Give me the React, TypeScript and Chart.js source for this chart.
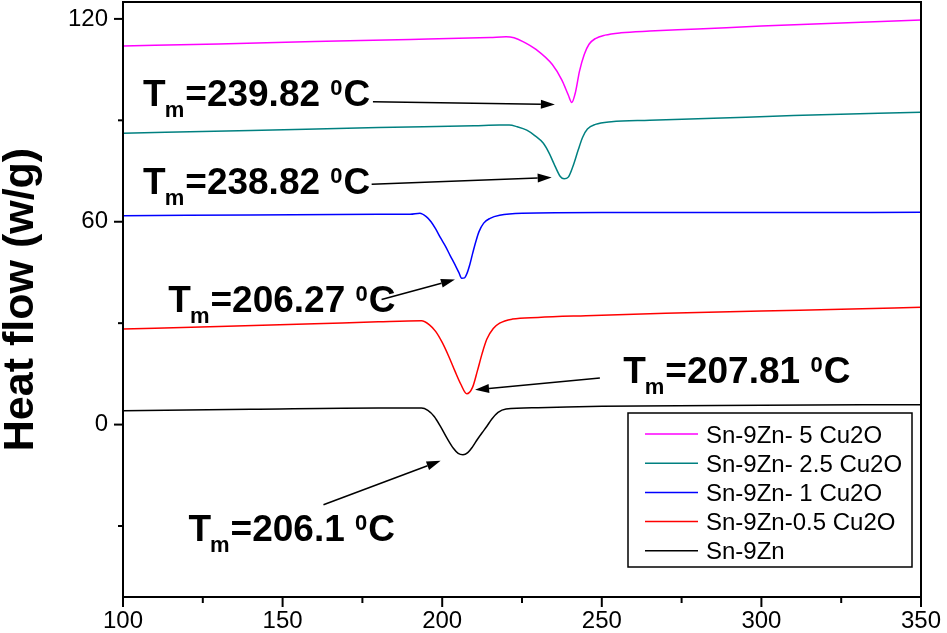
import React, { useEffect, useRef } from 'react';
import { Chart, registerables } from 'chart.js';

Chart.register(...registerables);

// ---- Series (temperature °C, heat flow W/g) ----
const seriesLabels = ['Sn-9Zn- 5 Cu2O', 'Sn-9Zn- 2.5 Cu2O', 'Sn-9Zn- 1 Cu2O', 'Sn-9Zn-0.5 Cu2O', 'Sn-9Zn'];
const seriesColors = ['#FF00FF', '#008080', '#0000FF', '#FF0000', '#000000'];

const tempCu5 = [100, 130, 160, 190, 215, 220, 222.5, 225.3, 229.5, 234.5, 237.5, 239.5, 240.6, 241.8, 243, 244.5, 246, 248, 251, 256, 265, 280, 300, 325, 350];
const heatCu5 = [112.0, 112.6, 113.3, 113.9, 114.5, 114.7, 114.4, 113.3, 110.9, 106.5, 101.9, 97.5, 95.3, 98.5, 104.5, 109.5, 112.5, 114.2, 115.2, 115.9, 116.4, 117.0, 117.9, 118.8, 119.7];

const tempCu25 = [100, 140, 180, 210, 218, 221, 223.5, 226.5, 229, 231.7, 233.5, 235, 237, 238.2, 239.5, 241, 242.6, 244, 245.5, 248, 253, 265, 285, 310, 350];
const heatCu25 = [86.2, 87.0, 87.9, 88.4, 88.6, 88.6, 88.1, 87.1, 85.5, 83.2, 80.3, 77.2, 73.4, 72.7, 73.2, 76.5, 81.2, 85.0, 87.4, 88.8, 89.6, 90.0, 90.6, 91.4, 92.4];

const tempCu1 = [100, 140, 180, 190, 193, 195, 196.5, 198, 199.5, 201, 202.5, 204, 205.2, 206.1, 207, 207.8, 208.7, 209.5, 210.5, 211.5, 213, 215, 218, 225, 250, 300, 350];
const heatCu1 = [61.8, 62.0, 62.2, 62.2, 62.5, 61.5, 60.0, 57.8, 55.2, 52.8, 50.0, 47.3, 45.0, 43.3, 43.4, 44.8, 47.5, 50.5, 54.0, 57.0, 59.6, 61.0, 61.9, 62.5, 62.7, 62.7, 62.8];

const tempCu05 = [100, 130, 160, 180, 193.5, 196, 198, 200, 202, 204, 205.8, 207.7, 209.5, 211, 212.5, 214, 216, 218, 222, 230, 245, 270, 300, 325, 350];
const heatCu05 = [28.3, 29.0, 29.8, 30.4, 30.7, 29.5, 27.5, 24.3, 20.3, 15.8, 12.0, 9.1, 11.0, 15.8, 21.0, 25.3, 28.4, 30.0, 31.2, 31.7, 32.2, 32.9, 33.6, 34.1, 34.7];

const tempBase = [100, 140, 180, 193.5, 195.5, 197.5, 199.5, 201.5, 203.5, 205, 206.5, 208, 209.5, 211, 212.5, 214, 215.5, 217.5, 220, 230, 250, 300, 350];
const heatBase = [4.1, 4.5, 4.9, 4.9, 4.2, 2.4, -0.6, -4.0, -7.0, -8.5, -8.9, -8.3, -6.6, -4.4, -2.4, -0.5, 1.6, 3.6, 4.6, 5.0, 5.4, 5.7, 5.9];

const seriesTemps = [tempCu5, tempCu25, tempCu1, tempCu05, tempBase];
const seriesHeats = [heatCu5, heatCu25, heatCu1, heatCu05, heatBase];

// ---- Axes ----
const xMin = 100;
const xMax = 350;
const xMajorTicks = [100, 150, 200, 250, 300, 350];
const yMin = -51;
const yMax = 125;
const yMajorTicks = [0, 60, 120];

// ---- Melting-point annotations (data coordinates) ----
const meltValues = ['239.82', '238.82', '206.27', '207.81', '206.1'];
const labelT = [106.3, 106.3, 114.2, 256.7, 120.5];
const labelV = [94.2, 68.1, 33.3, 12.2, -34.4];
const arrowFromT = [178.3, 177.9, 181.0, 249.4, 162.8];
const arrowFromV = [95.5, 71.1, 37.0, 13.8, -23.7];
const arrowToT = [235.3, 234.3, 204.0, 210.3, 199.5];
const arrowToV = [94.7, 73.1, 42.9, 10.3, -10.7];

const FONT = '"Liberation Sans", Arial, Helvetica, sans-serif';

function drawArrow(ctx: CanvasRenderingContext2D, x1: number, y1: number, x2: number, y2: number) {
  const ang = Math.atan2(y2 - y1, x2 - x1);
  const c = Math.cos(ang);
  const s = Math.sin(ang);
  const L = 14;
  const W = 4.5;
  ctx.lineWidth = 1.5;
  ctx.beginPath();
  ctx.moveTo(x1, y1);
  ctx.lineTo(x2 - L * c, y2 - L * s);
  ctx.stroke();
  ctx.beginPath();
  ctx.moveTo(x2, y2);
  ctx.lineTo(x2 - L * c + W * s, y2 - L * s - W * c);
  ctx.lineTo(x2 - L * c - W * s, y2 - L * s + W * c);
  ctx.closePath();
  ctx.fill();
}

function drawTm(ctx: CanvasRenderingContext2D, x0: number, y: number, value: string) {
  const main = `bold 37px ${FONT}`;
  const small = `bold 22px ${FONT}`;
  const sup = `bold 22px ${FONT}`;
  let x = x0;
  ctx.textAlign = 'left';
  ctx.textBaseline = 'alphabetic';
  ctx.font = main;
  ctx.fillText('T', x, y);
  x += ctx.measureText('T').width;
  ctx.font = small;
  ctx.fillText('m', x - 1, y + 11);
  x += ctx.measureText('m').width;
  ctx.font = main;
  const mid = '=' + value + ' ';
  ctx.fillText(mid, x, y);
  x += ctx.measureText(mid).width;
  ctx.font = sup;
  ctx.fillText('0', x, y - 11);
  x += ctx.measureText('0').width + 1;
  ctx.font = main;
  ctx.fillText('C', x, y);
}

const decorPlugin = {
  id: 'decor',
  afterDraw(chart: any) {
    const { ctx, chartArea: a, scales } = chart;
    const xs = scales.x;
    const ys = scales.y;
    ctx.save();
    ctx.strokeStyle = '#000';
    ctx.fillStyle = '#000';
    // frame
    ctx.lineWidth = 2;
    ctx.strokeRect(a.left, a.top, a.right - a.left, a.bottom - a.top);
    // ticks
    xs.ticks.forEach((t: any) => {
      const px = xs.getPixelForValue(t.value);
      const len = xMajorTicks.includes(t.value) ? 10 : 6;
      ctx.beginPath();
      ctx.moveTo(px, a.bottom);
      ctx.lineTo(px, a.bottom + len);
      ctx.stroke();
    });
    ys.ticks.forEach((t: any) => {
      const py = ys.getPixelForValue(t.value);
      const len = yMajorTicks.includes(t.value) ? 9 : 5;
      ctx.beginPath();
      ctx.moveTo(a.left, py);
      ctx.lineTo(a.left - len, py);
      ctx.stroke();
    });
    // legend
    const lx = a.right - 293;
    const ly = a.bottom - 184;
    ctx.lineWidth = 1.5;
    ctx.strokeRect(lx, ly, 284, 154);
    ctx.font = `24px ${FONT}`;
    ctx.textAlign = 'left';
    ctx.textBaseline = 'alphabetic';
    chart.data.datasets.forEach((ds: any, i: number) => {
      const cy = ly + 21 + i * 29.2;
      ctx.strokeStyle = ds.borderColor;
      ctx.lineWidth = 1.5;
      ctx.beginPath();
      ctx.moveTo(lx + 17, cy);
      ctx.lineTo(lx + 70, cy);
      ctx.stroke();
      ctx.fillStyle = '#000';
      ctx.fillText(ds.label, lx + 78, cy + 8.5);
    });
    // annotations
    ctx.strokeStyle = '#000';
    ctx.fillStyle = '#000';
    meltValues.forEach((v, i) => {
      drawTm(ctx, xs.getPixelForValue(labelT[i]), ys.getPixelForValue(labelV[i]), v);
      drawArrow(
        ctx,
        xs.getPixelForValue(arrowFromT[i]),
        ys.getPixelForValue(arrowFromV[i]),
        xs.getPixelForValue(arrowToT[i]),
        ys.getPixelForValue(arrowToV[i])
      );
    });
    ctx.restore();
  },
};

export default function App() {
  const ref = useRef<HTMLCanvasElement | null>(null);

  useEffect(() => {
    document.body.style.margin = '0';
    const canvas = ref.current;
    if (!canvas) return;
    Chart.defaults.font.family = FONT;
    const chart = new Chart(canvas, {
      type: 'line',
      data: {
        datasets: seriesLabels.map((label, i) => ({
          label,
          data: seriesTemps[i].map((t, j) => ({ x: t, y: seriesHeats[i][j] })),
          borderColor: seriesColors[i],
          backgroundColor: seriesColors[i],
          borderWidth: 1.5,
          pointRadius: 0,
          cubicInterpolationMode: 'monotone' as const,
          fill: false,
        })),
      },
      options: {
        animation: false,
        responsive: false,
        maintainAspectRatio: false,
        layout: { padding: { top: 2, right: 26, left: 0, bottom: 0 }, autoPadding: false },
        plugins: {
          legend: { display: false },
          tooltip: { enabled: false },
        },
        scales: {
          x: {
            type: 'linear',
            min: xMin,
            max: xMax,
            border: { display: false },
            grid: { display: true, drawOnChartArea: false, drawTicks: true, tickLength: 10, color: 'rgba(0,0,0,0)' },
            ticks: {
              stepSize: 25,
              autoSkip: false,
              maxRotation: 0,
              padding: 0,
              color: '#000',
              font: { size: 24, family: FONT },
              callback: (v: any) => (xMajorTicks.includes(Number(v)) ? String(v) : ''),
            },
            afterFit: (scale: any) => {
              scale.height = 36;
              scale.paddingLeft = 0;
              scale.paddingRight = 0;
            },
          },
          y: {
            type: 'linear',
            min: yMin,
            max: yMax,
            border: { display: false },
            grid: { display: true, drawOnChartArea: false, drawTicks: true, tickLength: 8, color: 'rgba(0,0,0,0)' },
            ticks: {
              stepSize: 30,
              includeBounds: false,
              autoSkip: false,
              padding: 7,
              color: '#000',
              font: { size: 24, family: FONT },
              callback: (v: any) => (yMajorTicks.includes(Number(v)) ? String(v) : ''),
            },
            title: {
              display: true,
              text: 'Heat flow (w/g)',
              color: '#000',
              padding: 0,
              font: { size: 43, weight: 'bold', family: FONT, lineHeight: 1 },
            },
            afterFit: (scale: any) => {
              scale.width = 123;
              scale.paddingTop = 0;
              scale.paddingBottom = 0;
            },
          },
        },
      },
      plugins: [decorPlugin],
    });
    return () => chart.destroy();
  }, []);

  return (
    <div style={{ width: 947, height: 633 }}>
      <canvas ref={ref} width={947} height={633} style={{ display: 'block' }} />
    </div>
  );
}
